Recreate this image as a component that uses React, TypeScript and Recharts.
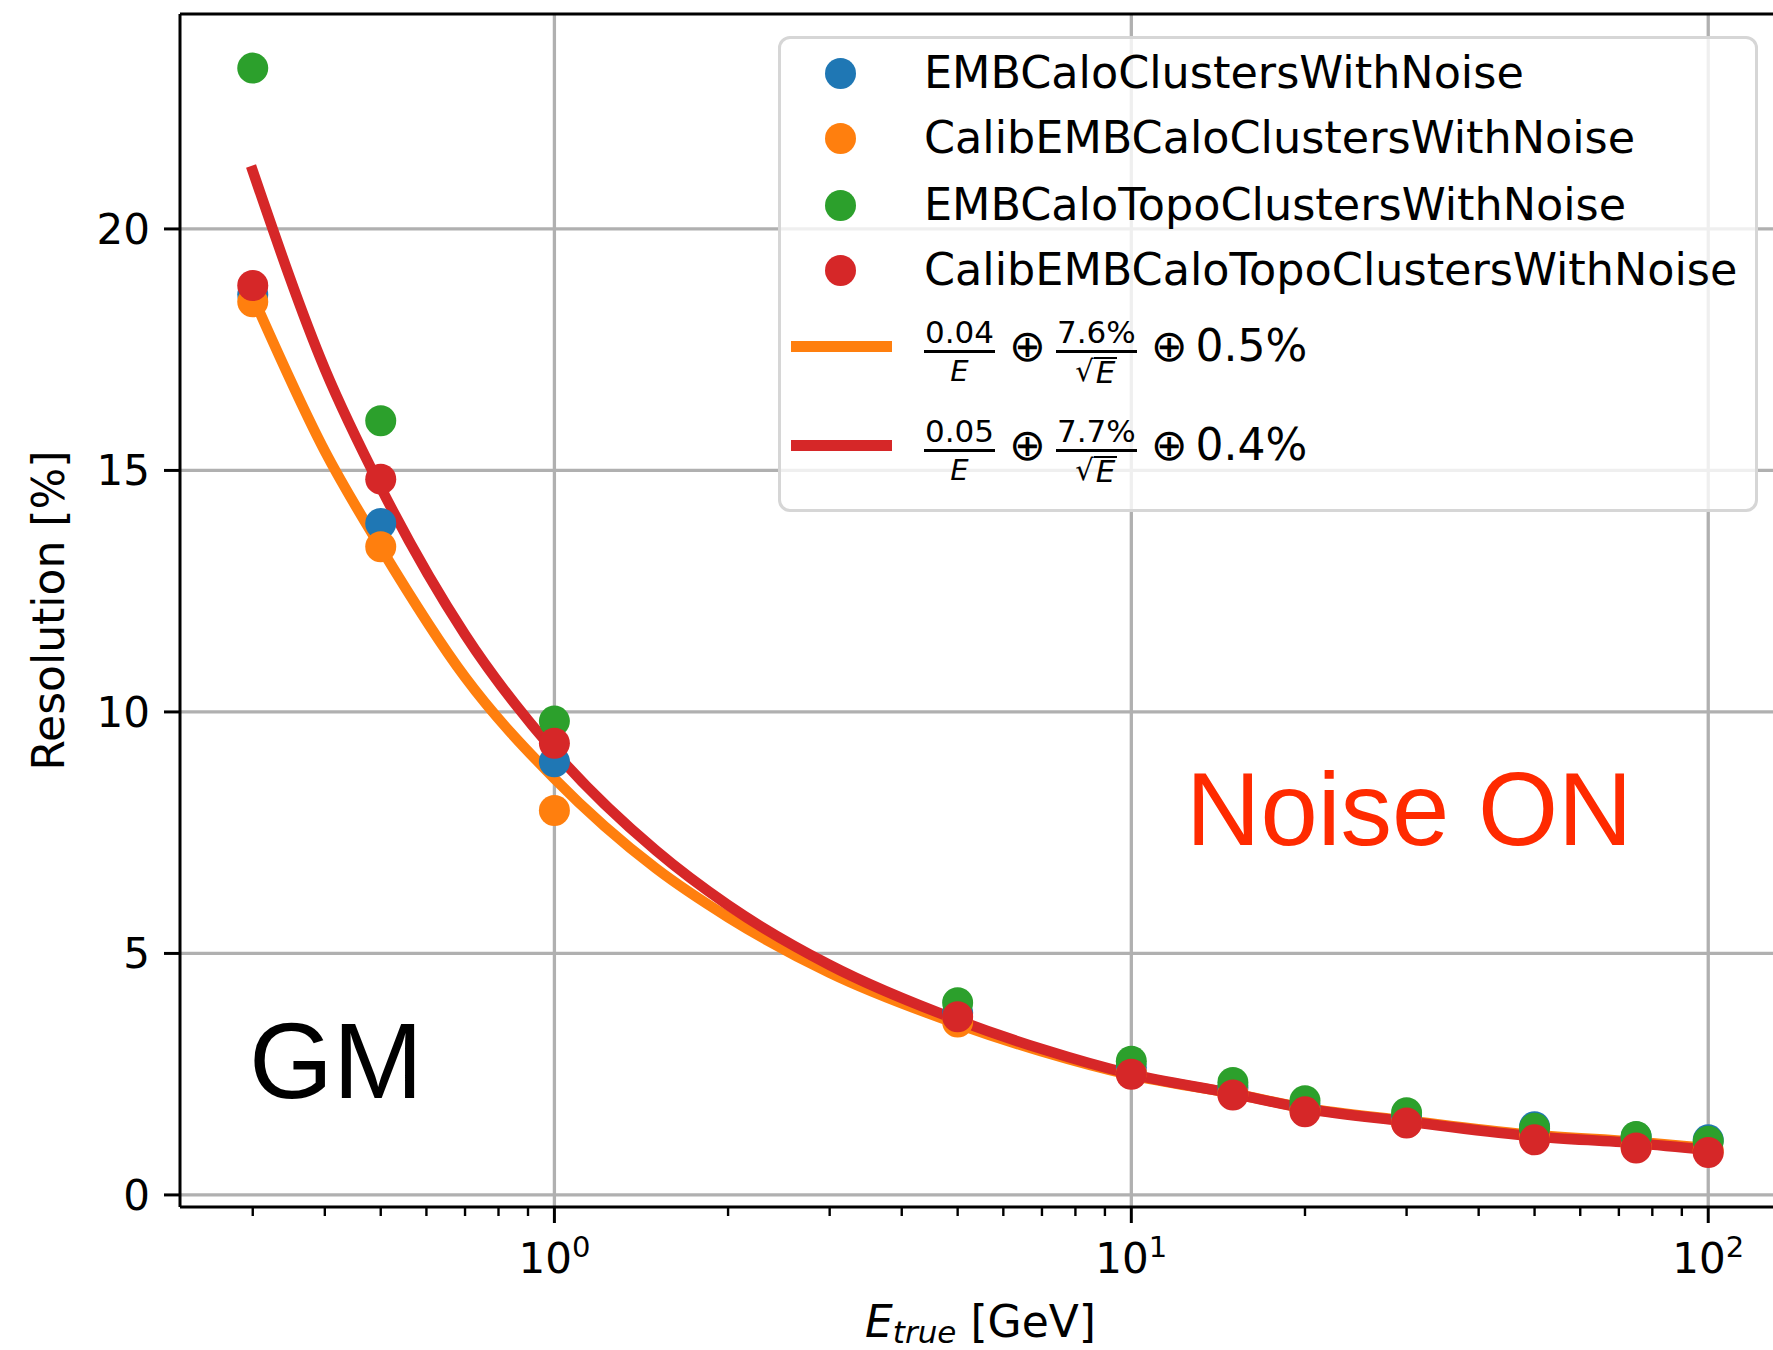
import React from "react"
import {
  ComposedChart,
  Scatter,
  Line,
  XAxis,
  YAxis,
  CartesianGrid,
  Legend,
  ReferenceLine,
} from "recharts"

// beam energies (GeV) and resolution (%) per cluster collection
const energies = [0.3, 0.5, 1, 5, 10, 15, 20, 30, 50, 75, 100]
const embCaloClusters = [18.64, 13.9, 8.97, 3.77, 2.64, 2.22, 1.84, 1.6, 1.41, 1.2, 1.14]
const calibEmbCaloClusters = [18.49, 13.42, 7.96, 3.58, 2.52, 2.1, 1.76, 1.5, 1.2, 1.0, 0.92]
const embCaloTopoClusters = [23.33, 16.03, 9.81, 3.98, 2.77, 2.33, 1.95, 1.7, 1.38, 1.21, 1.11]
const calibEmbCaloTopoClusters = [18.83, 14.82, 9.35, 3.69, 2.5, 2.07, 1.72, 1.49, 1.14, 0.97, 0.88]

// fitted curves
const fitEnergies = [0.3, 0.4, 0.5, 0.7, 1, 1.5, 2, 3, 5, 7, 10, 15, 20, 30, 50, 75, 100]
const fitClusters = [18.6, 15.4, 13.4, 10.72, 8.62, 6.76, 5.75, 4.6, 3.54, 2.97, 2.48, 2.1, 1.8, 1.54, 1.24, 1.1, 0.97]
const fitTopo = [21.2, 17.1, 14.65, 11.6, 9.18, 7.13, 6.0, 4.76, 3.62, 3.02, 2.5, 2.1, 1.79, 1.52, 1.21, 1.07, 0.93]

const seriesNames = [
  "EMBCaloClustersWithNoise",
  "CalibEMBCaloClustersWithNoise",
  "EMBCaloTopoClustersWithNoise",
  "CalibEMBCaloTopoClustersWithNoise",
]
const seriesColors = ["#1f77b4", "#ff7f0e", "#2ca02c", "#d62728"]
const fitTerms = [
  ["0.04", "7.6%", "0.5%"],
  ["0.05", "7.7%", "0.4%"],
]
const fitColors = ["#ff7f0e", "#d62728"]

const yTicks = [0, 5, 10, 15, 20]
const xMajorTicks = [1, 10, 100]
const xMinorTicks = [0.3, 0.4, 0.5, 0.6, 0.7, 0.8, 0.9, 2, 3, 4, 5, 6, 7, 8, 9, 20, 30, 40, 50, 60, 70, 80, 90]
const xDomain = [0.2244, 133.7]
const yDomain = [-0.25, 24.45]

const FONT = "DejaVu Sans"

const toPoints = (xs: number[], ys: number[]) => xs.map((x, i) => ({ x, y: ys[i] }))

// draws its own tick line: long + label for decades, short for the rest
const LogTick = ({ x, y, payload }: any) => {
  const major = xMajorTicks.includes(payload.value)
  if (!major) {
    return <line x1={x} x2={x} y1={y} y2={y + 9} stroke="#000" strokeWidth={2.4} />
  }
  const exp = Math.round(Math.log10(payload.value))
  return (
    <g>
      <line x1={x} x2={x} y1={y} y2={y + 16} stroke="#000" strokeWidth={3} />
      <text x={x} y={y + 66} textAnchor="middle" fontFamily={FONT} fontSize={42} fill="#000">
        10
        <tspan fontSize={29} dy={-16}>
          {exp}
        </tspan>
      </text>
    </g>
  )
}

const Frac = ({ num, den }: { num: string; den: React.ReactNode }) => (
  <span
    style={{
      display: "inline-flex",
      flexDirection: "column",
      alignItems: "center",
      marginTop: 10,
    }}
  >
    <span style={{ fontSize: 31, lineHeight: "30px", padding: "0 1px" }}>{num}</span>
    <span style={{ alignSelf: "stretch", height: 3, background: "#000", margin: "3px 0" }} />
    <span style={{ fontSize: 29, lineHeight: "30px" }}>{den}</span>
  </span>
)

const FitLabel = ({ terms }: { terms: string[] }) => (
  <span style={{ display: "inline-flex", alignItems: "center", fontSize: 44 }}>
    <Frac num={terms[0]} den={<i>E</i>} />
    <span style={{ margin: "0 10px 0 14px", lineHeight: 1 }}>⊕</span>
    <Frac
      num={terms[1]}
      den={
        <span style={{ display: "inline-flex", alignItems: "flex-end" }}>
          <span>√</span>
          <i style={{ borderTop: "2px solid #000", lineHeight: "27px", fontSize: 31, padding: "0 2px" }}>E</i>
        </span>
      }
    />
    <span style={{ margin: "0 8px 0 14px", lineHeight: 1 }}>⊕</span>
    <span style={{ lineHeight: 1 }}>{terms[2]}</span>
  </span>
)

const rowCenters = [34.5, 99.5, 166, 231, 307, 406]

const LegendBox = () => (
  <div
    style={{
      position: "relative",
      boxSizing: "border-box",
      width: 980,
      height: 476,
      border: "3px solid #d6d6d6",
      borderRadius: 12,
      background: "rgba(255,255,255,0.8)",
      fontFamily: FONT,
      color: "#000",
    }}
  >
    {seriesNames.map((name, i) => (
      <div
        key={name}
        style={{
          position: "absolute",
          left: 0,
          top: rowCenters[i] - 40,
          height: 80,
          display: "flex",
          alignItems: "center",
        }}
      >
        <span
          style={{
            position: "absolute",
            left: 59 - 15.5,
            width: 31,
            height: 31,
            borderRadius: "50%",
            background: seriesColors[i],
          }}
        />
        <span style={{ marginLeft: 143, fontSize: 44.5, lineHeight: 1, whiteSpace: "nowrap" }}>{name}</span>
      </div>
    ))}
    {fitTerms.map((terms, i) => (
      <div
        key={terms[0]}
        style={{
          position: "absolute",
          left: 0,
          top: rowCenters[4 + i] - 50,
          height: 100,
          display: "flex",
          alignItems: "center",
        }}
      >
        <span
          style={{
            position: "absolute",
            left: 9.5,
            width: 101,
            height: 11,
            background: fitColors[i],
          }}
        />
        <span style={{ marginLeft: 143 }}>
          <FitLabel terms={terms} />
        </span>
      </div>
    ))}
  </div>
)

export default function App() {
  const dots = (color: string) => (p: any) => <circle cx={p.cx} cy={p.cy} r={15.5} fill={color} />
  const seriesData = [embCaloClusters, calibEmbCaloClusters, embCaloTopoClusters, calibEmbCaloTopoClusters]

  return (
    <div
      style={{
        position: "absolute",
        left: 0,
        top: 0,
        width: 1773,
        height: 1350,
        overflow: "hidden",
        background: "#fff",
      }}
    >
      <ComposedChart width={1800} height={1350} margin={{ top: 14, right: 19, bottom: 0, left: 0 }}>
        <CartesianGrid
          xAxisId="bottom"
          yAxisId="y"
          stroke="#b0b0b0"
          strokeWidth={3.3}
          verticalValues={xMajorTicks}
          horizontalValues={yTicks}
          syncWithTicks
        />
        <XAxis
          xAxisId="bottom"
          dataKey="x"
          type="number"
          scale="log"
          domain={xDomain}
          allowDataOverflow
          ticks={[...xMinorTicks, ...xMajorTicks]}
          interval={0}
          height={143}
          tickSize={0}
          tickMargin={0}
          axisLine={{ stroke: "#000", strokeWidth: 3 }}
          tickLine={false}
          tick={<LogTick />}
          label={{
            content: ({ viewBox }: any) => (
              <text
                x={viewBox.x + viewBox.width / 2}
                y={viewBox.y + 130}
                textAnchor="middle"
                fontFamily={FONT}
                fontSize={44}
                fill="#000"
              >
                <tspan fontStyle="italic">E</tspan>
                <tspan fontStyle="italic" fontSize={31} dy={6}>
                  true
                </tspan>
                <tspan dy={-6}> [GeV]</tspan>
              </text>
            ),
          }}
        />
        <YAxis
          yAxisId="y"
          dataKey="y"
          type="number"
          domain={yDomain}
          allowDataOverflow
          ticks={yTicks}
          interval={0}
          width={180}
          tickSize={16}
          tickMargin={14}
          axisLine={{ stroke: "#000", strokeWidth: 3 }}
          tickLine={{ stroke: "#000", strokeWidth: 3 }}
          tick={{ fontSize: 42, fill: "#000", fontFamily: FONT }}
          label={{
            content: ({ viewBox }: any) => {
              const lx = viewBox.x + 64
              const ly = viewBox.y + viewBox.height / 2
              return (
                <text
                  x={lx}
                  y={ly}
                  transform={`rotate(-90, ${lx}, ${ly})`}
                  textAnchor="middle"
                  fontFamily={FONT}
                  fontSize={44}
                  fill="#000"
                >
                  Resolution [%]
                </text>
              )
            },
          }}
        />
        {/* top spine */}
        <ReferenceLine
          xAxisId="bottom"
          yAxisId="y"
          y={yDomain[1]}
          stroke="#000"
          strokeWidth={3}
          ifOverflow="visible"
        />
        {seriesData.map((vals, i) => (
          <Scatter
            key={seriesNames[i]}
            name={seriesNames[i]}
            xAxisId="bottom"
            yAxisId="y"
            data={toPoints(energies, vals)}
            fill={seriesColors[i]}
            shape={dots(seriesColors[i])}
            isAnimationActive={false}
          />
        ))}
        <Line
          xAxisId="bottom"
          yAxisId="y"
          data={toPoints(fitEnergies, fitClusters)}
          dataKey="y"
          type="monotone"
          stroke={fitColors[0]}
          strokeWidth={10.5}
          strokeLinecap="square"
          dot={false}
          activeDot={false}
          isAnimationActive={false}
        />
        <Line
          xAxisId="bottom"
          yAxisId="y"
          data={toPoints(fitEnergies, fitTopo)}
          dataKey="y"
          type="monotone"
          stroke={fitColors[1]}
          strokeWidth={10.5}
          strokeLinecap="square"
          dot={false}
          activeDot={false}
          isAnimationActive={false}
        />
        <Legend
          layout="vertical"
          align="center"
          verticalAlign="middle"
          content={() => <LegendBox />}
          wrapperStyle={{ left: 778, top: 36, width: 980, height: 476 }}
        />
      </ComposedChart>
      <svg
        width={1773}
        height={1350}
        style={{ position: "absolute", left: 0, top: 0, pointerEvents: "none" }}
      >
        <text x={249} y={1098} fontFamily="Liberation Sans" fontSize={108} fill="#000">
          GM
        </text>
        <text x={1186} y={845} fontFamily="Liberation Sans" fontSize={103} fill="#ff2a00">
          Noise ON
        </text>
      </svg>
    </div>
  )
}
